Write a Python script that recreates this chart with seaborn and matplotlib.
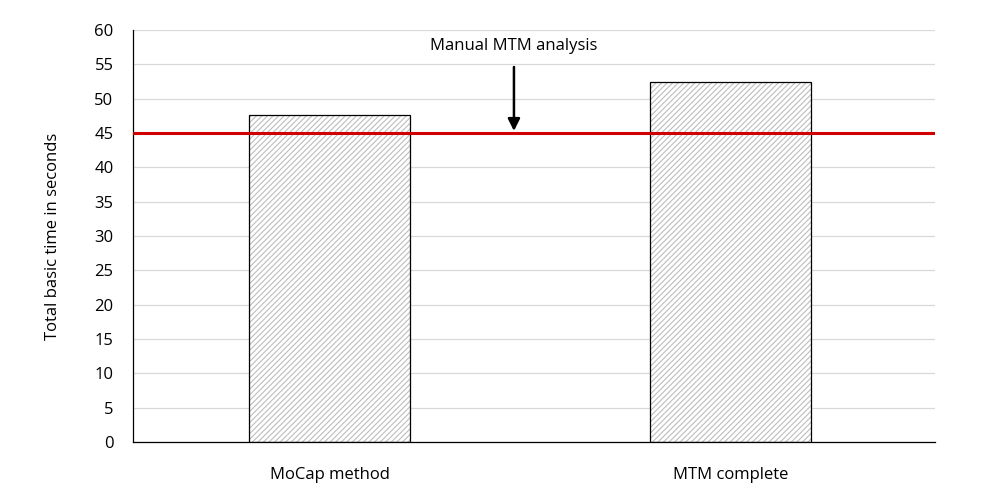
import matplotlib
matplotlib.use("Agg")
import matplotlib.pyplot as plt
import seaborn as sns
import pandas as pd

# ================= 数据 =================
methods = ['MoCap method', 'MTM complete']
basic_time = [47.6, 52.5]
manual_mtm = 45.0
yticks = list(range(0, 61, 5))

df = pd.DataFrame({'method': methods, 'time': basic_time})

sns.set_theme(style='white')
plt.rcParams['font.family'] = ['Open Sans', 'DejaVu Sans']
plt.rcParams['hatch.linewidth'] = 0.8

fig = plt.figure(figsize=(10, 5), dpi=100)
ax = fig.add_axes([0.133, 0.116, 0.802, 0.824])

# 灰色斜线填充
sns.barplot(data=df, x='method', y='time', ax=ax, width=0.4,
            color='white', linewidth=0, hatch='//////')
for p in ax.patches:
    p.set_edgecolor('#bdbdbd')
    p.set_linewidth(0)
# 黑色边框
sns.barplot(data=df, x='method', y='time', ax=ax, width=0.4,
            fill=False, edgecolor='black', linewidth=0.9)

ax.axhline(manual_mtm, color='#d00000', linewidth=2.2, zorder=5)
ax.annotate('Manual MTM analysis', xy=(0.46, manual_mtm + 0.3), xytext=(0.46, 57.6),
            ha='center', va='center', fontsize=12, color='black',
            bbox=dict(facecolor='white', edgecolor='none', pad=3),
            arrowprops=dict(arrowstyle='-|>', color='black', lw=1.8,
                            mutation_scale=18, shrinkA=6, shrinkB=0))

ax.set_ylim(0, 60)
ax.set_xlim(-0.49, 1.51)
ax.set_yticks(yticks)
ax.yaxis.grid(True, color='#d9d9d9', linewidth=0.9)
ax.set_axisbelow(True)
for s in ['top', 'right']:
    ax.spines[s].set_visible(False)
for s in ['left', 'bottom']:
    ax.spines[s].set_color('black')
    ax.spines[s].set_linewidth(0.9)
ax.tick_params(axis='y', labelsize=12, colors='black', length=0, pad=14)
ax.tick_params(axis='x', labelsize=12, colors='black', length=0, pad=18)
ax.set_xlabel('')
ax.set_ylabel('Total basic time in seconds', fontsize=12, labelpad=24, color='black')

fig.savefig('out.png', dpi=100)
